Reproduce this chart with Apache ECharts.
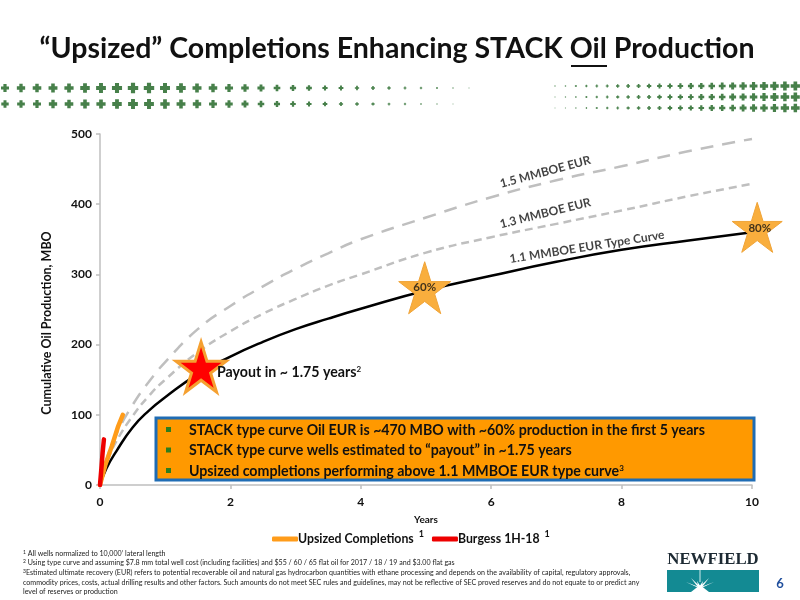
<!DOCTYPE html>
<html>
<head>
<meta charset="utf-8">
<style>html,body{margin:0;padding:0;background:#fff}#main{width:800px;height:600px}</style>
<script src="https://cdn.jsdelivr.net/npm/echarts@6/dist/echarts.min.js"></script>
</head>
<body>
<div id="main"></div>
<script>
var years = [0, 0.1, 0.25, 0.5, 0.75, 1, 1.5, 2, 2.5, 3, 3.5, 4, 5, 6, 7, 8, 9, 10];
var eur15 = [0, 36, 72, 114, 147, 175, 222, 255, 283, 308, 330, 350, 381, 410, 434, 454, 475, 493];
var eur13 = [0, 31, 62, 98, 127, 150, 189, 219, 244, 265, 284, 300, 331, 353, 372, 391, 411, 429];
var eur11 = [0, 24, 48, 82, 106, 125, 158, 183, 204, 222, 237, 251, 277, 298, 318, 335, 348, 360];
var upsizedYears = [0, 0.08, 0.18, 0.28, 0.35];
var upsized = [0, 28, 55, 84, 100];
var burgessYears = [0, 0.02, 0.04, 0.06];
var burgess = [0, 22, 46, 65];
var yTicks = [0, 100, 200, 300, 400, 500];

var font = 'Lato';
var starPath = 'path://M50 0L61.8 36.3L100 36.3L69.1 58.8L80.9 95.1L50 72.6L19.1 95.1L30.9 58.8L0 36.3L38.2 36.3Z';
var notes = [
    '{s|1} All wells normalized to 10,000’ lateral length',
    '{s|2} Using type curve and assuming $7.8 mm total well cost (including facilities) and $55 / 60 / 65 flat oil for 2017 / 18 / 19 and $3.00 flat gas',
    '{s|3}Estimated ultimate recovery (EUR) refers to potential recoverable oil and natural gas hydrocarbon quantities with ethane processing and depends on the availability of capital, regulatory approvals,',
    'commodity prices, costs, actual drilling results and other factors. Such amounts do not meet SEC rules and guidelines, may not be reflective of SEC proved reserves and do not equate to or predict any',
    'level of reserves or production'
];
var bullets = [
    'STACK type curve Oil EUR is ~470 MBO with ~60% production in the first 5 years',
    'STACK type curve wells estimated to “payout” in ~1.75 years',
    'Upsized completions performing above 1.1 MMBOE EUR type curve{s|3}'
];

function zip(xs, ys) {
    return xs.map(function (x, i) { return [x, ys[i]]; });
}

function cross(cx, cy, size) {
    var a = size / 2, b = size / 5;
    return {
        type: 'polygon',
        silent: true,
        shape: { points: [[cx - b, cy - a], [cx + b, cy - a], [cx + b, cy - b], [cx + a, cy - b], [cx + a, cy + b], [cx + b, cy + b], [cx + b, cy + a], [cx - b, cy + a], [cx - b, cy + b], [cx - a, cy + b], [cx - a, cy - b], [cx - b, cy - b]] },
        style: { fill: '#47804a' }
    };
}

var gfx = [];
// title
gfx.push({ type: 'text', x: 397, y: 49, style: { text: '“Upsized” Completions Enhancing STACK Oil Production', font: 'bold 28.5px ' + font, fill: '#111', textAlign: 'center', textVerticalAlign: 'middle' } });
gfx.push({ type: 'rect', shape: { x: 571, y: 65, width: 36, height: 2 }, style: { fill: '#111' } });

// cross pattern, left band fades out to the right, right band fades in
[88, 104].forEach(function (y, row) {
    for (var i = 0; i < 31; i++) {
        var size = (i < 9 ? 8 + i * 0.3 : 10.4 - (i - 9) * 0.47) - row * 0.6;
        if (size > 0.8) gfx.push(cross(5 + i * 16, y, size));
    }
});
[86, 97, 108].forEach(function (y, row) {
    for (var i = 0; i < 24; i++) {
        gfx.push(cross(555 + i * 10.45, y, 1.4 + i * 0.34 - row * 0.3));
    }
});

// callout box
gfx.push({ type: 'rect', z: 20, shape: { x: 156, y: 418, width: 598, height: 62 }, style: { fill: '#ff9900', stroke: '#1f6cb4', lineWidth: 3 } });
bullets.forEach(function (t, i) {
    var y = 430 + i * 20.5;
    gfx.push({ type: 'rect', z: 21, shape: { x: 166, y: y - 3, width: 5, height: 5 }, style: { fill: '#2e7d1e' } });
    gfx.push({
        type: 'text', z: 21, x: 189, y: y,
        style: {
            text: t, font: 'bold 14.2px ' + font, fill: '#111', textVerticalAlign: 'middle',
            rich: { s: { font: 'bold 8px ' + font, fill: '#111', verticalAlign: 'top', lineHeight: 14 } }
        }
    });
});

// payout note
gfx.push({
    type: 'text', z: 21, x: 217, y: 372,
    style: {
        text: 'Payout in ~ 1.75 years{s|2}', font: 'bold 14.2px ' + font, fill: '#111', textVerticalAlign: 'middle',
        rich: { s: { font: 'bold 8px ' + font, fill: '#111', verticalAlign: 'top', lineHeight: 14 } }
    }
});

// footnotes
notes.forEach(function (t, i) {
    gfx.push({
        type: 'text', x: 23, y: 553.5 + i * 9.6,
        style: {
            text: t, font: '7.1px "Liberation Sans Narrow", ' + font, fill: '#222', textVerticalAlign: 'middle',
            rich: { s: { font: '5px ' + font, fill: '#222', verticalAlign: 'top', lineHeight: 8 } }
        }
    });
});

// logo
gfx.push({ type: 'text', x: 713, y: 560, style: { text: 'NEWFIELD', font: 'bold 16.8px "Liberation Serif"', fill: '#1d2a33', textAlign: 'center', textVerticalAlign: 'middle' } });
gfx.push({ type: 'rect', shape: { x: 667, y: 570, width: 92, height: 22 }, style: { fill: '#138a93' } });
gfx.push({ type: 'rect', shape: { x: 699.6, y: 570, width: 0.8, height: 12 }, style: { fill: '#fff' } });
[[-17, 4], [-14, 10], [-9, 14], [-3, 11], [3, 11], [9, 14], [14, 10], [17, 4]].forEach(function (r) {
    gfx.push({ type: 'polygon', shape: { points: [[698.5, 588], [701.5, 588], [700 + r[0], 592 - r[1]]] }, style: { fill: '#fff' } });
});
gfx.push({ type: 'polygon', shape: { points: [[691, 592], [709, 592], [700, 585]] }, style: { fill: '#fff' } });
gfx.push({ type: 'text', x: 780, y: 584, style: { text: '6', font: 'bold 13px ' + font, fill: '#1f4e9c', textAlign: 'center', textVerticalAlign: 'middle' } });

function rotatedLabel(text, x, y, rotate) {
    return {
        type: 'scatter', data: [[x, y]], symbolSize: 1, itemStyle: { color: 'rgba(0,0,0,0)' }, silent: true, z: 6, clip: false,
        label: { show: true, position: 'inside', formatter: text, rotate: rotate, color: '#111', fontFamily: font, fontWeight: 'bold', fontSize: 12 }
    };
}

function star(x, y, size, fill, border, width) {
    return {
        type: 'scatter', data: [[x, y]], symbol: starPath, symbolSize: size, clip: false, silent: true, z: 8,
        itemStyle: { color: fill, borderColor: border, borderWidth: width, opacity: 1 }
    };
}

var myChart = echarts.init(document.getElementById('main'));
var option = {
    animation: false,
    backgroundColor: '#fff',
    textStyle: { fontFamily: font },
    grid: { left: 100, right: 48, top: 134, bottom: 115 },
    legend: {
        data: ['Upsized Completions', 'Burgess 1H-18'],
        left: 272, top: 530, itemGap: 8, itemWidth: 26, itemHeight: 5, icon: 'roundRect',
        padding: 0,
        formatter: function (name) { return name + ' {s|1}'; },
        textStyle: {
            color: '#111', fontFamily: font, fontWeight: 'bold', fontSize: 12.3, padding: [0, 0, 0, -5],
            rich: { s: { color: '#111', fontSize: 9, verticalAlign: 'top', padding: [0, 0, 9, 2], fontFamily: font } }
        }
    },
    xAxis: {
        type: 'value', min: 0, max: 10, interval: 2,
        name: 'Years', nameLocation: 'middle', nameGap: 30,
        nameTextStyle: { color: '#111', fontWeight: 'bold', fontSize: 10, fontFamily: font },
        splitLine: { show: false },
        axisLine: { lineStyle: { color: '#bfbfbf', width: 1.5 } },
        axisTick: { show: true, length: 4, lineStyle: { color: '#bfbfbf', width: 1.5 } },
        axisLabel: { color: '#111', fontWeight: 'bold', fontSize: 12, fontFamily: font, margin: 11 }
    },
    yAxis: {
        type: 'value', min: yTicks[0], max: yTicks[yTicks.length - 1], interval: 100,
        name: 'Cumulative Oil Production, MBO', nameLocation: 'middle', nameGap: 47,
        nameTextStyle: { color: '#111', fontWeight: 'bold', fontSize: 12.5, fontFamily: font, padding: [0, 27, 0, 0] },
        splitLine: { show: false },
        axisLine: { show: true, lineStyle: { color: '#bfbfbf', width: 1.5 } },
        axisTick: { show: true, length: 4, lineStyle: { color: '#bfbfbf', width: 1.5 } },
        axisLabel: { color: '#111', fontWeight: 'bold', fontSize: 12, fontFamily: font, margin: 8 }
    },
    series: [
        { name: '1.5 MMBOE EUR', type: 'line', data: zip(years, eur15), smooth: true, showSymbol: false, lineStyle: { color: '#bfbfbf', width: 2.5, type: [13, 9] } },
        { name: '1.3 MMBOE EUR', type: 'line', data: zip(years, eur13), smooth: true, showSymbol: false, lineStyle: { color: '#bfbfbf', width: 2.5, type: [8, 5] } },
        { name: '1.1 MMBOE EUR Type Curve', type: 'line', data: zip(years, eur11), smooth: true, showSymbol: false, lineStyle: { color: '#000', width: 2.5 } },
        { name: 'Upsized Completions', type: 'line', data: zip(upsizedYears, upsized), showSymbol: false, itemStyle: { color: '#ff9c1a' }, lineStyle: { color: '#ff9c1a', width: 4.5, cap: 'round' } },
        { name: 'Burgess 1H-18', type: 'line', data: zip(burgessYears, burgess), showSymbol: false, itemStyle: { color: '#ee0000' }, lineStyle: { color: '#ee0000', width: 4.5, cap: 'round' } },
        star(1.55, 168, 50, '#ff0000', '#f5a030', 3),
        star(4.98, 281, 52, '#f9ae3d', '#f0a438', 1),
        star(10.08, 367, 50, '#f9ae3d', '#f0a438', 1),
        { type: 'scatter', data: [[4.98, 281]], symbolSize: 1, itemStyle: { color: 'rgba(0,0,0,0)' }, z: 9, silent: true, label: { show: true, position: 'inside', formatter: '60%', color: '#111', fontFamily: font, fontWeight: 'bold', fontSize: 11.5 } },
        { type: 'scatter', data: [[10.12, 366]], symbolSize: 1, itemStyle: { color: 'rgba(0,0,0,0)' }, z: 9, silent: true, clip: false, label: { show: true, position: 'inside', formatter: '80%', color: '#111', fontFamily: font, fontWeight: 'bold', fontSize: 11.5 } },
        rotatedLabel('1.5 MMBOE EUR', 6.83, 446, 15),
        rotatedLabel('1.3 MMBOE EUR', 6.83, 387, 14),
        rotatedLabel('1.1 MMBOE EUR Type Curve', 7.47, 339, 9)
    ],
    graphic: { elements: gfx }
};
myChart.setOption(option);
</script>
</body>
</html>
